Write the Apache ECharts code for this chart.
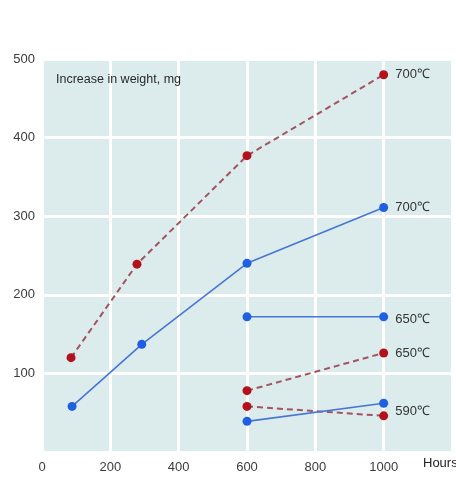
<!DOCTYPE html>
<html>
<head>
<meta charset="utf-8">
<script src="https://cdn.jsdelivr.net/npm/echarts@6/dist/echarts.min.js"></script>
<style>
html,body{margin:0;padding:0;background:#fff;}
#chart{width:456px;height:478px;}
</style>
</head>
<body>
<div id="chart"></div>
<script>
// Data (hours, mg)
const red700 = [[85, 120], [278, 239], [600, 377], [1000, 480]];
const blue700 = [[88, 58], [292, 137], [600, 240], [1000, 311]];
const blue650 = [[600, 172], [1000, 172]];
const red650 = [[600, 78], [1000, 126]];
const red590 = [[600, 58], [1000, 46]];
const blue590 = [[600, 39], [1000, 62]];

const xTicks = [0, 200, 400, 600, 800, 1000];
const yTicks = [100, 200, 300, 400, 500];
const titleText = 'Increase in weight, mg';
const xName = 'Hours';
const labels = { red700: '700℃', blue700: '700℃', blue650: '650℃', red650: '650℃', r590: '590℃' };

const FONT = 'Liberation Sans, Arial, sans-serif';
const RED_M = '#b3121c', RED_L = '#a2545f';
const BLUE_M = '#1f5fe3', BLUE_L = '#4677d6';

function mk(name, data, isRed, labelText, labelOffset) {
  return {
    name: name,
    type: 'line',
    data: data.map((d, i) => {
      const o = { value: d };
      if (labelText && i === data.length - 1) {
        o.label = {
          show: true, position: 'right', distance: 7,
          formatter: labelText, color: '#333', fontSize: 13, fontFamily: FONT,
          offset: labelOffset || [0, 0]
        };
      }
      return o;
    }),
    symbol: 'circle',
    symbolSize: 9,
    itemStyle: { color: isRed ? RED_M : BLUE_M },
    lineStyle: isRed ? { color: RED_L, width: 2, type: [6, 4] } : { color: BLUE_L, width: 1.6, type: 'solid' },
    label: { show: false },
    emphasis: { disabled: true },
    animation: false,
    z: isRed ? 3 : 4
  };
}

const chart = echarts.init(document.getElementById('chart'), null, { renderer: 'canvas' });
chart.setOption({
  backgroundColor: '#ffffff',
  animation: false,
  title: {
    text: titleText, left: 51, top: 68,
    textStyle: { fontSize: 12.5, fontWeight: 'normal', color: '#2a2a2a', fontFamily: FONT }
  },
  grid: {
    left: 42, top: 59, width: 410, height: 393, backgroundColor: '#dcecec', show: true, borderWidth: 0,
    containLabel: false, outerBoundsMode: 'none'
  },
  xAxis: {
    type: 'value', min: 0, max: 1200, interval: 200,
    name: xName, nameLocation: 'end', nameGap: -29,
    nameTextStyle: { color: '#222', fontSize: 13, fontFamily: FONT, verticalAlign: 'top', padding: [5, 0, 0, 0] },
    axisLine: { show: false }, axisTick: { show: false },
    axisLabel: {
      margin: 9, color: '#3c3c3c', fontSize: 13, fontFamily: FONT,
      formatter: v => (xTicks.indexOf(v) >= 0 ? String(v) : '')
    },
    splitLine: { show: true, lineStyle: { color: '#ffffff', width: 3 } },
    showMinLine: false, showMaxLine: false
  },
  yAxis: {
    type: 'value', min: 0, max: 500, interval: 100,
    axisLine: { show: false }, axisTick: { show: false },
    axisLabel: {
      margin: 7, color: '#3c3c3c', fontSize: 13, fontFamily: FONT,
      formatter: v => (yTicks.indexOf(v) >= 0 ? String(v) : '')
    },
    splitLine: { show: true, lineStyle: { color: '#ffffff', width: 3 } },
    showMinLine: false, showMaxLine: false
  },
  series: [
    mk('red700', red700, true, labels.red700),
    mk('blue700', blue700, false, labels.blue700),
    mk('blue650', blue650, false, labels.blue650, [0, 3]),
    mk('red650', red650, true, labels.red650),
    mk('red590', red590, true, labels.r590, [0, -4]),
    mk('blue590', blue590, false, null)
  ]
});
</script>
</body>
</html>
